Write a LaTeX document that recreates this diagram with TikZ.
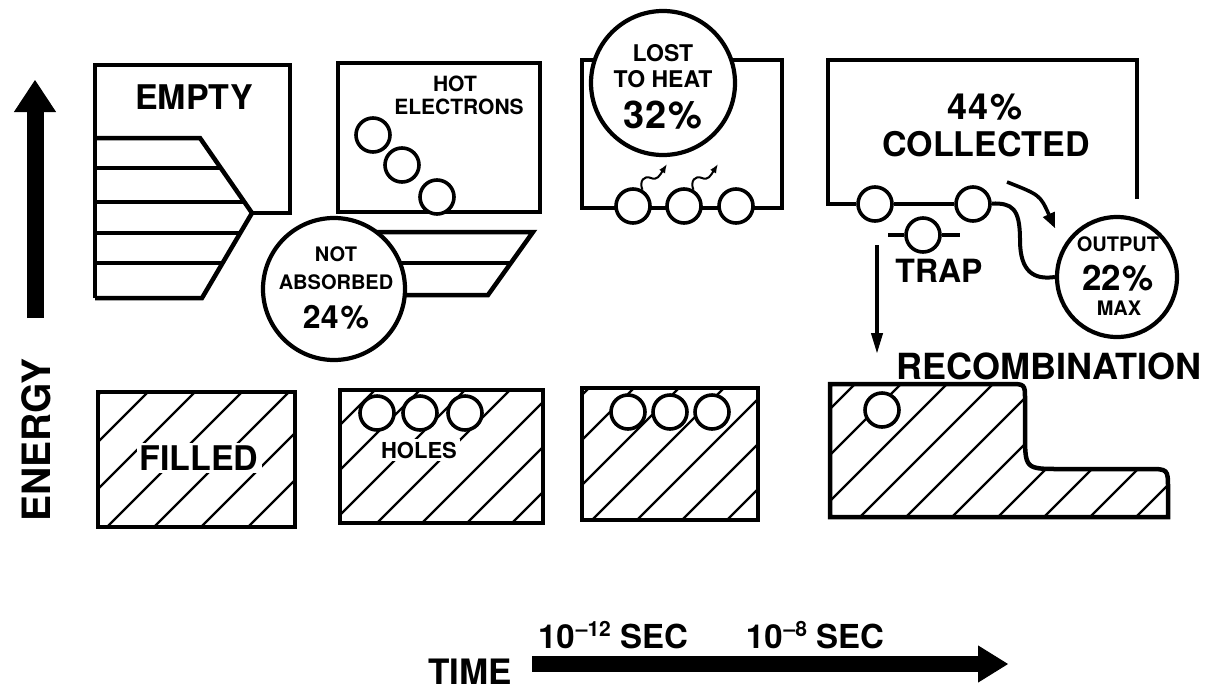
\documentclass[tikz,border=0pt]{standalone}
\usepackage{fontspec}
\setmainfont{TeX Gyre Heros}
\usetikzlibrary{arrows.meta}
\newcommand{\fs}[1]{\fontsize{#1}{#1}\selectfont\bfseries}
\newcommand{\pw}[1]{\kern1pt\raisebox{0.38em}{\fs{21}#1}}

\begin{document}
\begin{tikzpicture}[
    x=1pt, y=-1pt,
    panel/.style={line width=4.5pt, line join=miter},
    band/.style={line width=4pt},
    hatch/.style={line width=2.4pt},
    dot/.style={circle, draw, line width=3.6pt, fill=white, minimum size=34pt, inner sep=0pt},
    bubble/.style={circle, draw, line width=4.2pt, fill=white, inner sep=0pt},
    lbl/.style={inner sep=1pt},
    gap/.style={fill=white, inner sep=3pt},
    axis/.style={-{Triangle[length=32pt,width=42pt,line width=1pt]}},
    droparrow/.style={line width=4pt, -{Triangle[length=20pt,width=12pt,line width=1pt]}},
    flowarrow/.style={line width=3.6pt, -{Triangle[length=15pt,width=13pt,line width=1pt]}},
    heatarrow/.style={line width=2pt, -{Latex[length=9pt,width=7pt]}}
]
\useasboundingbox (0,0) rectangle (1214,691);

% energy axis
\coordinate (e0) at (35,318);
\coordinate (e1) at (35,80);
\draw[axis, line width=17pt] (e0) -- (e1);
\node[lbl, font=\fs{39}, rotate=90] (energy) at (36,440) {ENERGY};

% upper row: conduction band
\draw[panel] (95,298) -- (95,65) -- (290,65) -- (290,213) -- (252,213);
\draw[panel] (95,138) -- (200,138) -- (252,213) -- (202,298) -- (95,298);
\draw[panel] (95,168) -- (221,168);
\draw[panel] (95,202) -- (244,202);
\draw[panel] (95,233) -- (240,233);
\draw[panel] (95,263) -- (223,263);
\node[lbl, font=\fs{34}] (empty) at (194,97) {EMPTY};

\draw[panel] (345,232) -- (533,232) -- (488,295) -- (345,295);
\draw[panel] (345,263) -- (511,263);
\node[bubble, minimum size=142pt] (notabs) at (334,289) {};
\node[lbl, font=\fs{20}] (nota) at (336,254) {NOT};
\node[lbl, font=\fs{20}] (notb) at (336,282) {ABSORBED};
\node[lbl, font=\fs{32}] (notc) at (336,317) {24\kern2pt\%};

\draw[panel] (338,63) rectangle (540,212);
\node[lbl, font=\fs{21}] (hot) at (455,84) {HOT};
\node[lbl, font=\fs{21}] (elec) at (459,107) {ELECTRONS};
\node[dot] (e1c) at (373,135) {};
\node[dot] (e2c) at (402,165) {};
\node[dot] (e3c) at (437,197) {};

\draw[panel] (582,208) -- (582,60) -- (782,60) -- (782,208) -- cycle;
\node[dot] (h1) at (633,206) {};
\node[dot] (h2) at (684,206) {};
\node[dot] (h3) at (736,206) {};
\foreach \c/\dx in {h1/0,h2/51}
  \draw[heatarrow] (\c.60) .. controls ({639+\dx},181) and ({644+\dx},175) .. ({651+\dx},178)
    .. controls ({657+\dx},181) and ({660+\dx},175) .. ({667+\dx},164);
\node[bubble, minimum size=144pt] (heat) at (663,83) {};
\node[lbl, font=\fs{23}] (heata) at (663,53) {LOST};
\node[lbl, font=\fs{23}] (heatb) at (663,79) {TO HEAT};
\node[lbl, font=\fs{38}] (heatc) at (663,115) {32\kern2pt\%};

\node[dot] (c1) at (875,204) {};
\node[dot] (c2) at (973,204) {};
\draw[panel] (1137,199) -- (1137,60) -- (828,60) -- (828,204) -- (c1);
\draw[panel] (c1) -- (c2);
\node[lbl, font=\fs{36}] (coll44) at (985,107) {44\kern2pt\%};
\node[lbl, font=\fs{34}] (collected) at (986,144) {COLLECTED};

\node[bubble, minimum size=120pt] (output) at (1117,277) {};
\node[lbl, font=\fs{20}] (outa) at (1118,244) {OUTPUT};
\node[lbl, font=\fs{35}] (outb) at (1118,278) {22\kern2pt\%};
\node[lbl, font=\fs{20}] (outc) at (1119,308) {MAX};
\draw[band] (c2) .. controls (1012,203) and (1020,208) .. (1020,240)
  .. controls (1020,272) and (1034,280) .. (output.west);
\coordinate (fa0) at (1007,182);
\coordinate (fa1) at (1055,228);
\draw[flowarrow] (fa0) .. controls (1040,195) .. (fa1);

\node[dot] (trapc) at (923,235) {};
\coordinate (tl) at (888,235);
\coordinate (tr) at (960,235);
\draw[band] (tl) -- (trapc);
\draw[band] (trapc) -- (tr);
\node[lbl, font=\fs{32}] (trap) at (939,271) {TRAP};
\coordinate (r0) at (877,245);
\coordinate (r1) at (877,353);
\draw[droparrow] (r0) -- (r1);
\node[lbl, font=\fs{36}] (recomb) at (1049,366) {RECOMBINATION};

% lower row: valence band
\begin{scope}
  \clip (98,392) rectangle (295,527);
  \foreach \k in {-4,...,4} \draw[hatch] ({107+47*\k},527) -- ++(200,-200);
\end{scope}
\draw[panel] (98,392) rectangle (295,527);
\node[lbl, gap, font=\fs{34}] (filled) at (199,458) {FILLED};

\begin{scope}
  \clip (340,390) rectangle (543,523);
  \foreach \k in {-4,...,4} \draw[hatch] ({377+45*\k},523) -- ++(200,-200);
\end{scope}
\draw[panel] (340,390) rectangle (543,523);
\node[dot] (v1) at (377,413) {};
\node[dot] (v2) at (420,413) {};
\node[dot] (v3) at (465,413) {};
\node[lbl, gap, font=\fs{22}] (holes) at (419,450) {HOLES};

\begin{scope}
  \clip (582,388) rectangle (758,520);
  \foreach \k in {-4,...,4} \draw[hatch] ({592+45*\k},520) -- ++(200,-200);
\end{scope}
\draw[panel] (582,388) rectangle (758,520);
\node[dot] (w1) at (628,412) {};
\node[dot] (w2) at (670,412) {};
\node[dot] (w3) at (712,412) {};

\begin{scope}
  \clip (830,517) -- (830,384) -- (1009,384) .. controls (1025,384) .. (1025,400)
    -- (1025,432) .. controls (1025,469) .. (1060,469) -- (1148,469)
    .. controls (1168,469) .. (1168,489) -- (1168,517) -- cycle;
  \foreach \k in {-4,...,7} \draw[hatch] ({860+46*\k},517) -- ++(200,-200);
\end{scope}
\draw[panel] (830,517) -- (830,384) -- (1009,384) .. controls (1025,384) .. (1025,400)
    -- (1025,432) .. controls (1025,469) .. (1060,469) -- (1148,469)
    .. controls (1168,469) .. (1168,489) -- (1168,517) -- cycle;
\node[dot] (z1) at (882,410) {};

% time axis
\node[lbl, font=\fs{35}] (time) at (470,672) {TIME};
\coordinate (t0) at (532,664);
\coordinate (t1) at (1008,664);
\draw[line width=16pt, -{Triangle[length=30pt,width=37pt,line width=1pt]}] (t0) -- (t1);
\node[lbl, font=\fs{33}] (t12) at (613,635) {10\pw{\textendash12} SEC};
\node[lbl, font=\fs{33}] (t8) at (815,635) {10\pw{\textendash8} SEC};
\end{tikzpicture}
\end{document}
